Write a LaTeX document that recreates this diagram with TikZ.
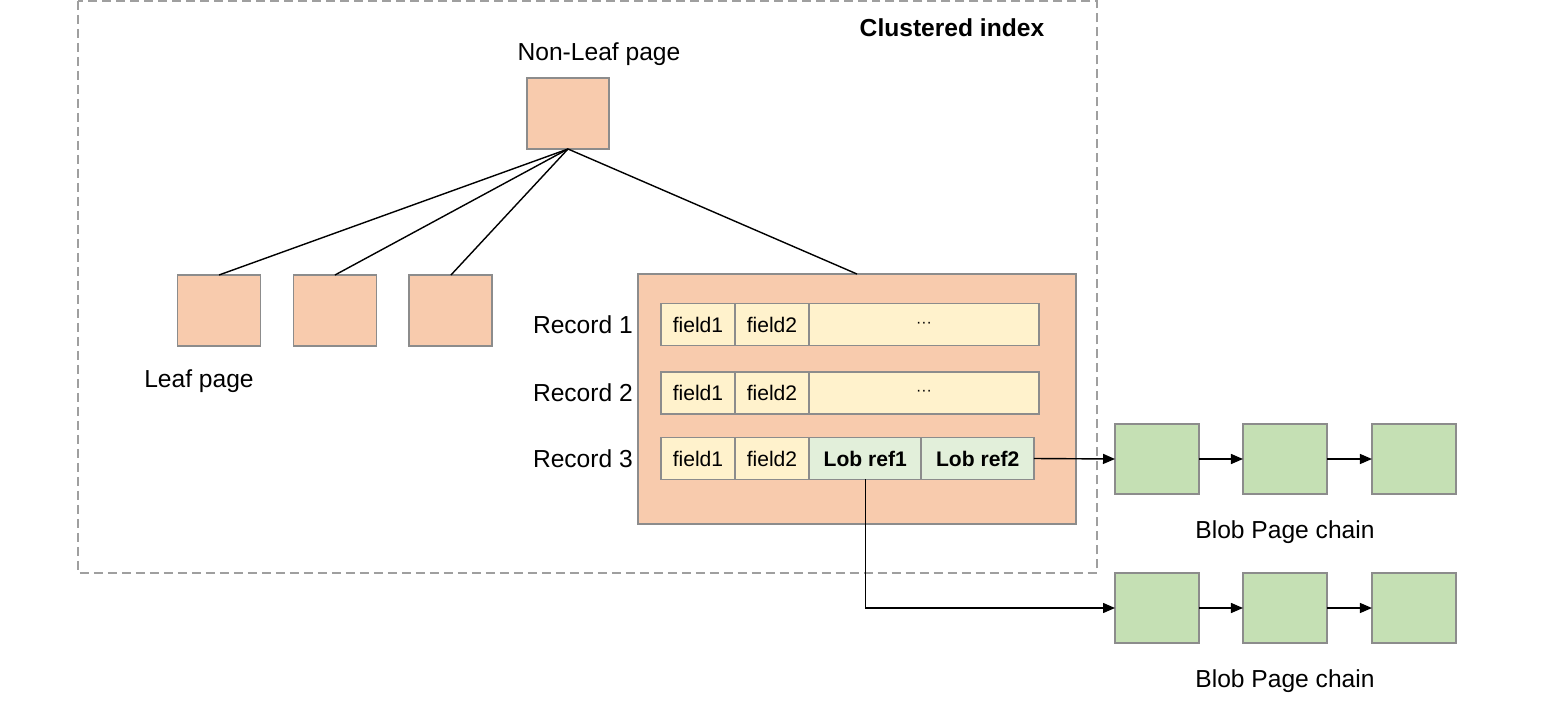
\documentclass[tikz,border=0pt]{standalone}
\usepackage{fontspec}
\setmainfont{Liberation Sans}
\usetikzlibrary{
    positioning,
    arrows.meta
}
\definecolor{pagefill}{HTML}{F8CBAD}
\definecolor{fieldfill}{HTML}{FFF2CC}
\definecolor{lobfill}{HTML}{E2EFDA}
\definecolor{blobfill}{HTML}{C5E0B4}
\definecolor{boxline}{HTML}{8C8C8C}
\tikzset{
  basic/.style = {
      draw=boxline,
      line width=1.1pt,
      rectangle,
      inner sep=0pt,
      outer sep=0pt
  },
  page/.style = {
      basic,
      fill=pagefill,
      minimum width=1.66cm,
      minimum height=1.42cm
  },
  blob/.style = {
      basic,
      fill=blobfill,
      minimum width=1.68cm,
      minimum height=1.4cm
  },
  cell/.style = {
      basic,
      fill=fieldfill,
      font=\fontsize{12}{14}\selectfont,
      minimum width=1.48cm,
      minimum height=0.84cm
  },
  lob/.style = {
      cell,
      fill=lobfill,
      font=\fontsize{12}{14}\selectfont\bfseries,
      minimum width=2.25cm
  },
  caption/.style = {
      font=\fontsize{14}{16}\selectfont
  },
  link/.style = {
      line width=0.8pt
  },
  chain/.style = {
      line width=0.8pt,
      -{Triangle[length=0.24cm,width=0.2cm]}
  },
  frame/.style = {
      draw=gray!75,
      line width=0.9pt,
      dash pattern=on 0.18cm off 0.1cm
  }
}
\begin{document}
\begin{tikzpicture}[x=0.02cm, y=-0.02cm]
    \useasboundingbox (0,0) rectangle (1560,710);
    % Frame
    \draw[frame] (78,1) rectangle (1097,573);
    \node[caption, font=\fontsize{14}{16}\selectfont\bfseries] (ci) at (952,28) {Clustered index};
    % Tree
    \node[page, minimum width=1.64cm] (nl) at (568,113.5) {};
    \node[caption] (nllabel) at (599,54) {Non-Leaf page};
    \node[page] (leaf1) at (219,310.5) {};
    \node[page, right=0.66cm of leaf1] (leaf2) {};
    \node[page, right=0.66cm of leaf2] (leaf3) {};
    \node[caption] (leaflabel) at (199,381) {Leaf page};
    \node[page, minimum width=8.76cm, minimum height=5cm] (rec) at (857,399) {};
    \path[draw, link]
    (nl.south) edge (leaf1.north)
    (nl.south) edge (leaf2.north)
    (nl.south) edge (leaf3.north)
    (nl.south) edge (rec.north);
    % Records
    \foreach \r/\y in {1/324.5, 2/393} {
        \node[cell] (r\r f1) at (698,\y) {field1};
        \node[cell, right=0pt of r\r f1] (r\r f2) {field2};
        \node[cell, right=0pt of r\r f2, minimum width=4.6cm] (r\r rest)
            {\small\textperiodcentered\textperiodcentered\textperiodcentered};
        \node[caption, left=0.44cm of r\r f1] (r\r label) {Record \r};
    }
    \node[cell] (r3f1) at (698,458.5) {field1};
    \node[cell, right=0pt of r3f1] (r3f2) {field2};
    \node[lob, right=0pt of r3f2] (lob1) {Lob ref1};
    \node[lob, right=0pt of lob1] (lob2) {Lob ref2};
    \node[caption, left=0.44cm of r3f1] (r3label) {Record 3};
    % Blob chains
    \node[blob] (b11) at (1157,459) {};
    \node[blob, right=0.88cm of b11] (b12) {};
    \node[blob, right=0.9cm of b12] (b13) {};
    \node[caption, below=0.4cm of b12] (chain1) {Blob Page chain};
    \node[blob] (b21) at (1157,608) {};
    \node[blob, right=0.88cm of b21] (b22) {};
    \node[blob, right=0.9cm of b22] (b23) {};
    \node[caption, below=0.4cm of b22] (chain2) {Blob Page chain};
    \path
    (lob2.east) edge[chain] (b11.west)
    (b11) edge[chain] (b12)
    (b12) edge[chain] (b13)
    (b21) edge[chain] (b22)
    (b22) edge[chain] (b23);
    \draw[chain] (lob1.south) |- (b21.west);
\end{tikzpicture}
\end{document}
